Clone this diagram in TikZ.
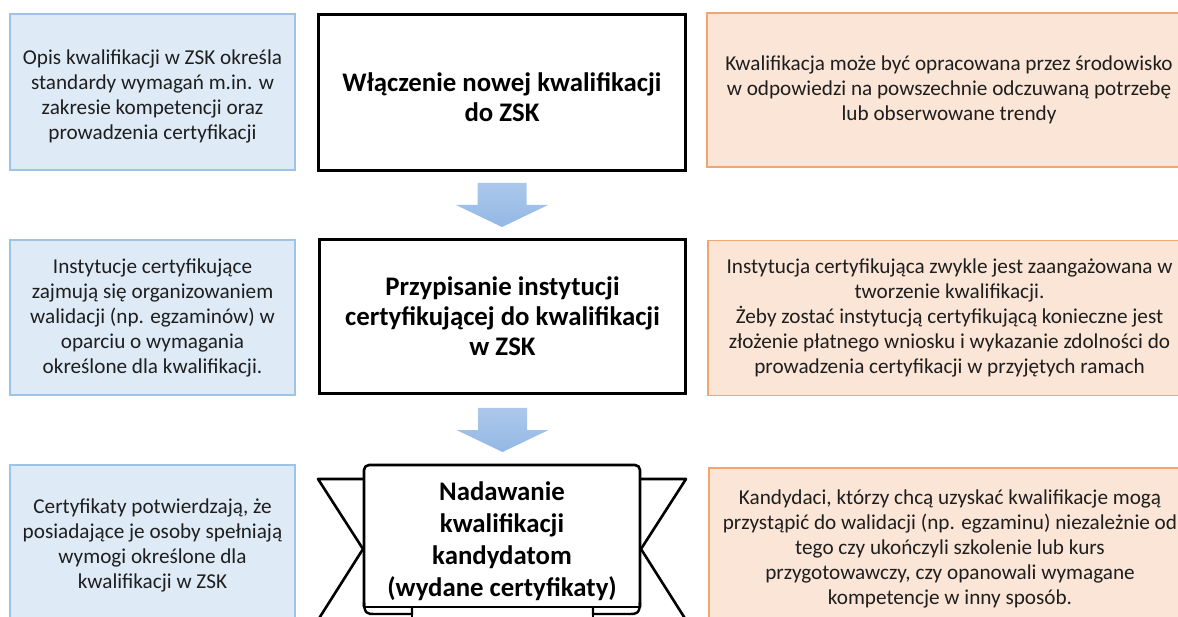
\documentclass[tikz,border=0pt]{standalone}
\usepackage{fontspec}
\setmainfont{Carlito}
\usetikzlibrary{calc}
\definecolor{bfill}{HTML}{DEEBF7}
\definecolor{bline}{HTML}{9DC3E6}
\definecolor{ofill}{HTML}{FBE5D6}
\definecolor{oline}{HTML}{F4A46E}
\definecolor{atop}{HTML}{ABC8EB}
\definecolor{abot}{HTML}{93B8E5}
\definecolor{txt}{HTML}{1E1E1E}
\tikzset{
  smalltext/.style={font=\fontsize{21.2}{25}\selectfont, text=txt, align=center},
  bluebox/.style={smalltext, draw=bline, fill=bfill, line width=1.3pt, inner sep=0pt},
  orangebox/.style={smalltext, draw=oline, fill=ofill, line width=1.3pt, inner sep=0pt},
  stagebox/.style={draw=black, fill=white, line width=3pt, inner sep=0pt, align=center,
    font=\bfseries\fontsize{26.8}{30}\selectfont},
  blockarrow/.style={top color=atop, bottom color=abot, draw=none},
  ribline/.style={draw=black, line width=2.6pt, fill=white, line join=round}
}
\begin{document}
\begin{tikzpicture}[x=1pt,y=-1pt]
\clip (0,0) rectangle (1178,617);
\fill[white] (0,0) rectangle (1178,617);

% left column
\node[bluebox, minimum width=285, minimum height=156,
  label={[smalltext, inner sep=0pt, yshift=-4pt]center:{Opis kwalifikacji w ZSK określa\\standardy wymagań m.in. w\\zakresie kompetencji oraz\\prowadzenia certyfikacji}}] (l1) at (152.5,92) {};
\node[bluebox, minimum width=285, minimum height=155] (l2) at (152.5,317.5)
  {Instytucje certyfikujące\\zajmują się organizowaniem\\walidacji (np. egzaminów) w\\oparciu o wymagania\\określone dla kwalifikacji.};
\node[bluebox, minimum width=285, minimum height=160] (l3) at (152.5,545)
  {Certyfikaty potwierdzają, że\\posiadające je osoby spełniają\\wymogi określone dla\\kwalifikacji w ZSK};

% middle column
\node[stagebox, minimum width=367, minimum height=156,
  label={[align=center, font=\bfseries\fontsize{26.8}{30}\selectfont, inner sep=0pt, yshift=-5pt]center:{Włączenie nowej kwalifikacji\\do ZSK}}] (m1) at (502,92.5) {};
\node[stagebox, minimum width=366, minimum height=154] (m2) at (502.5,316.5)
  {Przypisanie instytucji\\certyfikującej do kwalifikacji\\w ZSK};

% right column
\node[orangebox, minimum width=484, minimum height=154] (r1) at (949,90)
  {Kwalifikacja może być opracowana przez środowisko\\w odpowiedzi na powszechnie odczuwaną potrzebę\\lub obserwowane trendy};
\node[orangebox, minimum width=483, minimum height=155] (r2) at (949.5,318)
  {Instytucja certyfikująca zwykle jest zaangażowana w\\tworzenie kwalifikacji.\\Żeby zostać instytucją certyfikującą konieczne jest\\złożenie płatnego wniosku i wykazanie zdolności do\\prowadzenia certyfikacji w przyjętych ramach};
\node[orangebox, minimum width=482, minimum height=162] (r3) at (950,549)
  {Kandydaci, którzy chcą uzyskać kwalifikacje mogą\\przystąpić do walidacji (np. egzaminu) niezależnie od\\tego czy ukończyli szkolenie lub kurs\\przygotowawczy, czy opanowali wymagane\\kompetencje w inny sposób.};

% ribbon (third stage)
\coordinate (rb) at (502,536);
\begin{scope}[shift={(rb)}]
  % tails
  \path[ribline] (-138,-57) -- (-184,-57) -- (-139,13) -- (-184,84);
  \path[ribline] (138,-57) -- (184,-57) -- (139,13) -- (184,84);
  % back piece
  \path[ribline] (-90,60) -- (-90,90) -- (91,90) -- (91,60);
  % panel
  \path[ribline, rounded corners=5pt] (-138,71) -- (-138,-71) -- (138,-71) -- (138,71);
  \draw[line width=2.6pt] (-139,71) -- (139,71);
  % curls
  \draw[line width=2.4pt] (-138,66) .. controls (-138,78) and (-134,78) .. (-128,78) -- (-90,78) -- (-90,71);
  \draw[line width=2.4pt] (138,66) .. controls (138,78) and (134,78) .. (128,78) -- (91,78) -- (91,71);
\end{scope}
\node[align=center, font=\bfseries\fontsize{26.8}{32}\selectfont, text=black, inner sep=0pt] (rib) at (502,541)
  {Nadawanie\\kwalifikacji\\kandydatom\\(wydane certyfikaty)};

% block arrows
\begin{scope}[shift={(m1.south)}]
  \path[blockarrow] (-24.5,11) -- (24.5,11) -- (24.5,33) -- (46,33) -- (0,55) -- (-46,33) -- (-24.5,33) -- cycle;
\end{scope}
\begin{scope}[shift={(m2.south)}]
  \path[blockarrow] (-24.5,13) -- (24.5,13) -- (24.5,35) -- (46,35) -- (0,57) -- (-46,35) -- (-24.5,35) -- cycle;
\end{scope}
\end{tikzpicture}
\end{document}
